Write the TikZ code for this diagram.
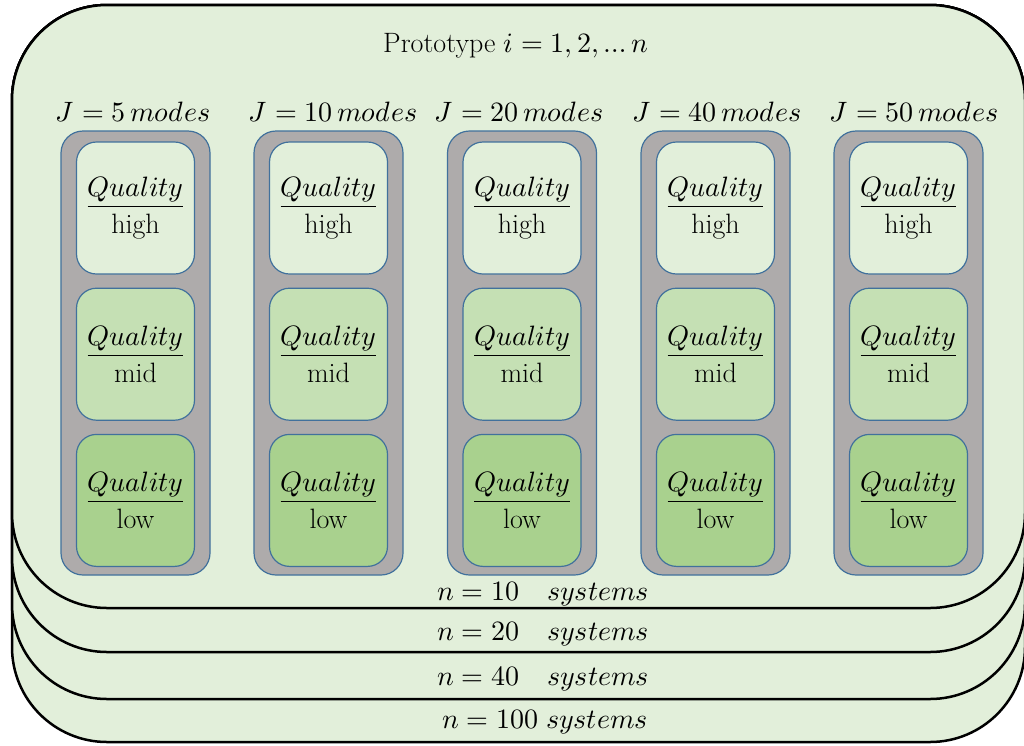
\documentclass[tikz,border=0pt]{standalone}
\usepackage{unicode-math}
\usetikzlibrary{positioning}

\definecolor{cardgreen}{RGB}{226,239,218}
\definecolor{midgreen}{RGB}{197,224,180}
\definecolor{lowgreen}{RGB}{169,209,142}
\definecolor{modegray}{RGB}{174,171,171}
\definecolor{boxblue}{RGB}{65,113,156}

\tikzset{
  card/.style={draw=black, line width=2.5pt, fill=cardgreen, rounded corners=95pt},
  modecol/.style={draw=boxblue, line width=1.2pt, fill=modegray, rounded corners=22pt,
    minimum width=149pt, minimum height=444pt},
  qbox/.style={draw=boxblue, line width=1.2pt, rounded corners=20pt, align=center,
    inner sep=0pt, minimum width=118pt, minimum height=132pt},
}

\begin{document}
\begin{tikzpicture}[x=1pt, y=-1pt, font=\fontsize{28}{34}\selectfont]
  \useasboundingbox (0,0) rectangle (1024,745);

  % stacked system cards, back to front
  \draw[card] (12,5) rectangle (1025,742);
  \draw[card] (12,5) rectangle (1025,699);
  \draw[card] (12,5) rectangle (1025,652);
  \draw[card] (12,5) rectangle (1025,608);

  \node[anchor=base] at (516,52) (title) {Prototype $i=1,2,\ldots n$};

  \node[modecol] at (135.5,353) (col1) {};
  \node[modecol] at (328.5,353) (col2) {};
  \node[modecol] at (522,353) (col3) {};
  \node[modecol] at (715.5,353) (col4) {};
  \node[modecol] at (908.5,353) (col5) {};

  \node[anchor=base] at (133,121) (J1) {$J=5\,modes$};
  \node[anchor=base] at (333,121) (J2) {$J=10\,modes$};
  \node[anchor=base] at (519,121) (J3) {$J=20\,modes$};
  \node[anchor=base] at (717,121) (J4) {$J=40\,modes$};
  \node[anchor=base] at (914,121) (J5) {$J=50\,modes$};

  \node[qbox, fill=cardgreen, below=11pt of col1.north] (hi1) {$\underline{Quality}$\\[3pt]high};
  \node[qbox, fill=midgreen, below=13pt of hi1] (mid1) {$\underline{Quality}$\\[3pt]mid};
  \node[qbox, fill=lowgreen, below=13pt of mid1] (lo1) {$\underline{Quality}$\\[3pt]low};

  \node[qbox, fill=cardgreen, below=11pt of col2.north] (hi2) {$\underline{Quality}$\\[3pt]high};
  \node[qbox, fill=midgreen, below=13pt of hi2] (mid2) {$\underline{Quality}$\\[3pt]mid};
  \node[qbox, fill=lowgreen, below=13pt of mid2] (lo2) {$\underline{Quality}$\\[3pt]low};

  \node[qbox, fill=cardgreen, below=11pt of col3.north] (hi3) {$\underline{Quality}$\\[3pt]high};
  \node[qbox, fill=midgreen, below=13pt of hi3] (mid3) {$\underline{Quality}$\\[3pt]mid};
  \node[qbox, fill=lowgreen, below=13pt of mid3] (lo3) {$\underline{Quality}$\\[3pt]low};

  \node[qbox, fill=cardgreen, below=11pt of col4.north] (hi4) {$\underline{Quality}$\\[3pt]high};
  \node[qbox, fill=midgreen, below=13pt of hi4] (mid4) {$\underline{Quality}$\\[3pt]mid};
  \node[qbox, fill=lowgreen, below=13pt of mid4] (lo4) {$\underline{Quality}$\\[3pt]low};

  \node[qbox, fill=cardgreen, below=11pt of col5.north] (hi5) {$\underline{Quality}$\\[3pt]high};
  \node[qbox, fill=midgreen, below=13pt of hi5] (mid5) {$\underline{Quality}$\\[3pt]mid};
  \node[qbox, fill=lowgreen, below=13pt of mid5] (lo5) {$\underline{Quality}$\\[3pt]low};

  \node[anchor=base] at (543,600) (n10) {$n=10\quad systems$};
  \node[anchor=base] at (543,640) (n20) {$n=20\quad systems$};
  \node[anchor=base] at (543,685) (n40) {$n=40\quad systems$};
  \node[anchor=base] at (545,728) (n100) {$n=100\;systems$};

\end{tikzpicture}
\end{document}
